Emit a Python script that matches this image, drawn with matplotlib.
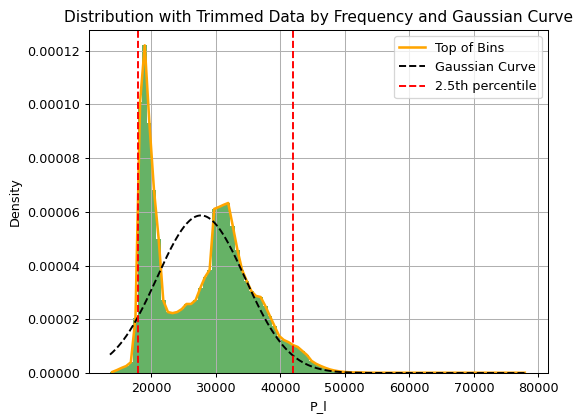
import numpy as np
import matplotlib.pyplot as plt
from matplotlib.ticker import FormatStrFormatter

# гистограмма (плотность) по бинам
x_min, x_max = 13600, 78260
densities = [
    0.0000004, 0.0000011, 0.0000019, 0.0000026, 0.0000040, 0.0000205, 0.000101, 0.000122,
    0.0000931, 0.000068, 0.000050, 0.000027, 0.0000227, 0.0000223, 0.0000227, 0.0000238,
    0.0000257, 0.0000257, 0.0000272, 0.0000317, 0.0000357, 0.0000384, 0.0000611, 0.0000618,
    0.0000626, 0.0000633, 0.0000547, 0.0000458, 0.0000384, 0.0000343, 0.0000305, 0.0000287,
    0.0000283, 0.0000250, 0.0000212, 0.0000175, 0.0000138, 0.0000123, 0.0000115, 0.0000104,
    0.0000097, 0.0000082, 0.0000067, 0.0000045, 0.0000034, 0.0000026, 0.0000019, 0.0000013,
    0.0000009, 0.0000006, 0.0000004, 0.0000003, 0.0000002, 0.0000002, 0.0000002,
] + [0.0000001] * 35
mu, sigma = 27700, 6800
percentiles = [17950, 41980]

edges = np.linspace(x_min, x_max, len(densities) + 1)
centers = (edges[:-1] + edges[1:]) / 2
width = edges[1] - edges[0]

fig, ax = plt.subplots(figsize=(6.25, 4.5), dpi=92)
fig.subplots_adjust(left=0.155, right=0.953, top=0.9275, bottom=0.099)

ax.bar(edges[:-1], densities, width=width, align='edge', color='g', alpha=0.6)
ax.plot(centers, densities, color='orange', linewidth=2, label='Top of Bins')

xs = np.linspace(x_min, x_max, 300)
ax.plot(xs, np.exp(-0.5 * ((xs - mu) / sigma) ** 2) / (sigma * np.sqrt(2 * np.pi)),
        'k--', label='Gaussian Curve')

ax.axvline(percentiles[0], color='r', linestyle='--', label='2.5th percentile')
ax.axvline(percentiles[1], color='r', linestyle='--')

ax.set_ylim(0, 0.0001277)
ax.yaxis.set_major_formatter(FormatStrFormatter('%.5f'))
ax.set_xlabel('P_l')
ax.set_ylabel('Density')
ax.set_title('Distribution with Trimmed Data by Frequency and Gaussian Curve')
ax.grid(True)
ax.legend(loc='upper right')

fig.savefig('out.png', dpi=92)
